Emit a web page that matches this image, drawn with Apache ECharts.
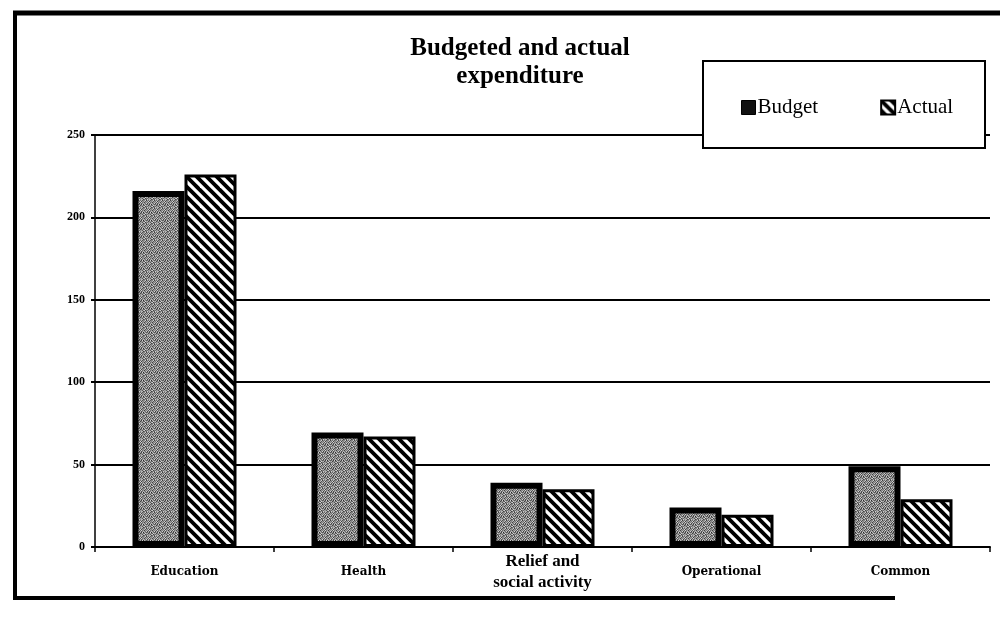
<!DOCTYPE html>
<html><head><meta charset="utf-8">
<script src="https://cdn.jsdelivr.net/npm/echarts@6/dist/echarts.min.js"></script>
<style>html,body{margin:0;padding:0;background:#fff}#c{width:1000px;height:628px}</style>
</head><body><div id="c"></div>
<script>
const categories = ['Education', 'Health', 'Relief and\nsocial activity', 'Operational', 'Common'];
const budget = [216, 69.5, 39, 24, 49];
const actual = [226, 67, 35, 19.5, 29];
const yTicks = [0, 50, 100, 150, 200, 250];
const seriesNames = ['Budget', 'Actual'];
const titleText = 'Budgeted and actual\nexpenditure';

function stipple() {
  const c = document.createElement('canvas'); c.width = 8; c.height = 8;
  const g = c.getContext('2d');
  const m = [
    '41735264','26351734','73426153','35172642',
    '24653718','61327435','17453362','53614227'];
  const shades = ['#f0f0f0','#d0d0d0','#b4b4b4','#9a9a9a','#828282','#6c6c6c','#565656','#404040','#2a2a2a','#111111'];
  for (let y = 0; y < 8; y++) for (let x = 0; x < 8; x++) {
    g.fillStyle = shades[+m[y][x]]; g.fillRect(x, y, 1, 1);
  }
  return c;
}
function hatch() {
  const c = document.createElement('canvas'); c.width = 20; c.height = 20;
  const g = c.getContext('2d');
  g.fillStyle = '#fff'; g.fillRect(0, 0, 20, 20);
  g.strokeStyle = '#000'; g.lineWidth = 3.8; g.lineCap = 'square';
  for (const k of [-30, -20, -10, 0, 10, 20]) { g.beginPath(); g.moveTo(k, 0); g.lineTo(k + 20, 20); g.stroke(); }
  return c;
}
const budgetFill = { image: stipple(), repeat: 'repeat' };
const actualFill = { image: hatch(), repeat: 'repeat' };

const chart = echarts.init(document.getElementById('c'), null, { renderer: 'canvas' });
chart.setOption({
  animation: false,
  backgroundColor: '#fff',
  title: {
    text: titleText, left: 515, top: 30, textAlign: 'center',
    textStyle: { fontFamily: 'Liberation Serif', fontWeight: 'bold', fontSize: 25, lineHeight: 28, color: '#000' }
  },
  legend: {
    z: 20, left: 736, top: 92, itemWidth: 14, itemHeight: 14, itemGap: 62,
    textStyle: { fontFamily: 'Liberation Serif', fontSize: 21, color: '#000', padding: [0, 0, 0, -3] },
    data: [
      { name: seriesNames[0], icon: 'rect', itemStyle: { color: '#111', borderColor: '#000', borderWidth: 1 } },
      { name: seriesNames[1], icon: 'rect', itemStyle: { color: actualFill, borderColor: '#000', borderWidth: 2 } }
    ]
  },
  grid: { left: 95, right: 10, top: 135, bottom: 81 },
  xAxis: {
    type: 'category', data: categories,
    axisLine: { lineStyle: { color: '#000', width: 2 } },
    axisTick: { show: true, alignWithLabel: false, length: 5, lineStyle: { color: '#000', width: 1.5 } },
    axisLabel: {
      margin: 4, interval: 0, color: '#000',
      fontFamily: 'DejaVu Serif', fontWeight: 'bold', fontSize: 12, lineHeight: 42,
      formatter: v => v.indexOf('\n') >= 0 ? v.split('\n').map(s => '{big|' + s + '}').join('\n') : v,
      rich: { big: { fontFamily: 'Liberation Serif', fontWeight: 'bold', fontSize: 17, lineHeight: 21, color: '#000' } }
    }
  },
  yAxis: {
    type: 'value', min: yTicks[0], max: yTicks[yTicks.length - 1], interval: 50,
    axisLine: { show: true, lineStyle: { color: '#000', width: 1.5 } },
    axisTick: { show: true, length: 4, lineStyle: { color: '#000', width: 2 } },
    splitLine: { show: true, lineStyle: { color: '#000', width: 2 } },
    axisLabel: { margin: 10, color: '#000', fontFamily: 'Liberation Serif', fontWeight: 'bold', fontSize: 12 }
  },
  series: [
    { name: seriesNames[0], type: 'bar', data: budget, barWidth: 52, barGap: '0%',
      itemStyle: { color: budgetFill, borderColor: '#000', borderWidth: 6 } },
    { name: seriesNames[1], type: 'bar', data: actual, barWidth: 52,
      itemStyle: { color: actualFill, borderColor: '#000', borderWidth: 3 } }
  ],
  graphic: [
    { type: 'rect', z: 10, shape: { x: 703, y: 61, width: 282, height: 87 },
      style: { fill: '#fff', stroke: '#000', lineWidth: 2 } },
    { type: 'line', z: 10, shape: { x1: 13, y1: 13, x2: 1000, y2: 13 }, style: { stroke: '#000', lineWidth: 5 } },
    { type: 'line', z: 10, shape: { x1: 15, y1: 11, x2: 15, y2: 600 }, style: { stroke: '#000', lineWidth: 4 } },
    { type: 'line', z: 10, shape: { x1: 13, y1: 598, x2: 895, y2: 598 }, style: { stroke: '#000', lineWidth: 4 } }
  ]
});
</script></body></html>
